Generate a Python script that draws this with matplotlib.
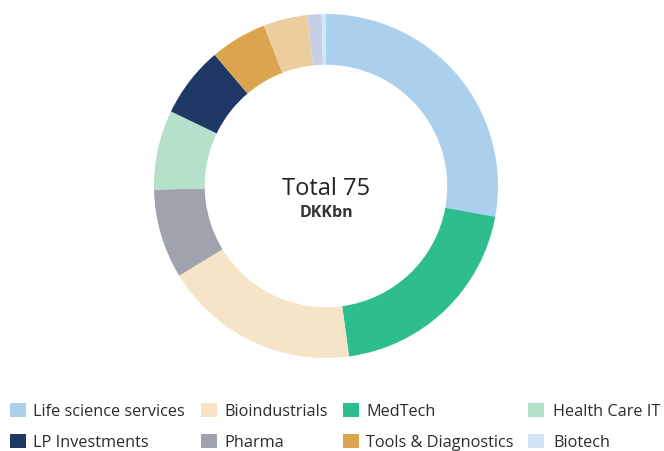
"""Donut chart: portfolio split by segment, total 75 DKKbn."""

import matplotlib
matplotlib.use("Agg")

import matplotlib.pyplot as plt
from matplotlib.patches import Rectangle

# ── Data (DKKbn, clockwise from 12 o'clock) ───────────────────────────────
segments = ["Life science services", "MedTech", "Bioindustrials", "Pharma",
            "Health Care IT", "LP Investments", "Tools & Diagnostics",
            "Other A", "Other B", "Biotech"]
values   = [20.9, 15.0, 13.8, 6.3, 5.6, 5.0, 4.0, 3.1, 1.0, 0.3]
colours  = ["#abd0ee", "#2ebd8e", "#f5e4c8", "#a0a2ae", "#b5e0c9",
            "#1f3866", "#dba54f", "#ebcd9e", "#c6d0e4", "#d3e6f7"]

# legend entries in reading order (row 1, then row 2)
legend_items = ["Life science services", "Bioindustrials", "MedTech", "Health Care IT",
                "LP Investments", "Pharma", "Tools & Diagnostics", "Biotech"]

total_label = "Total 75"
unit_label  = "DKKbn"

# ── Layout (pixels) ────────────────────────────────────────────────────────
W, H = 664, 452
CX, CY, R = 326, 187, 172
LEG_SQ_X  = [10, 201, 343, 528]
LEG_TXT_X = [33, 224, 366, 553]
LEG_ROW_Y = [411, 442]
TEXT = "#2b2b2b"
FONT = "Open Sans"

fig = plt.figure(figsize=(W / 100, H / 100), dpi=100)
fig.patch.set_facecolor("white")

ax = fig.add_axes([(CX - R) / W, 1 - (CY + R) / H, 2 * R / W, 2 * R / H])
ax.pie(values, colors=colours, startangle=90, counterclock=False, radius=1,
       wedgeprops=dict(width=0.295, linewidth=0))
ax.set_xlim(-1, 1)
ax.set_ylim(-1, 1)
ax.set_aspect("equal")
ax.axis("off")

# centre labels
fig.text(CX / W, 1 - 195 / H, total_label, ha="center", va="baseline",
         fontsize=17, color="#222222", family=FONT)
fig.text(CX / W, 1 - 217 / H, unit_label, ha="center", va="baseline",
         fontsize=11.5, fontweight="bold", color="#333333", family=FONT)

# legend, drawn by hand to match the column spacing
colour_of = dict(zip(segments, colours))
for i, name in enumerate(legend_items):
    row, col = divmod(i, 4)
    y = LEG_ROW_Y[row]
    fig.patches.append(Rectangle((LEG_SQ_X[col] / W, 1 - (y + 7) / H), 16 / W, 14 / H,
                                 transform=fig.transFigure, facecolor=colour_of[name],
                                 edgecolor="none"))
    fig.text(LEG_TXT_X[col] / W, 1 - (y + 1) / H, name, ha="left", va="center",
             fontsize=11.7, color=TEXT, family=FONT)

fig.savefig("out.png", dpi=100, facecolor="white")
plt.close(fig)
